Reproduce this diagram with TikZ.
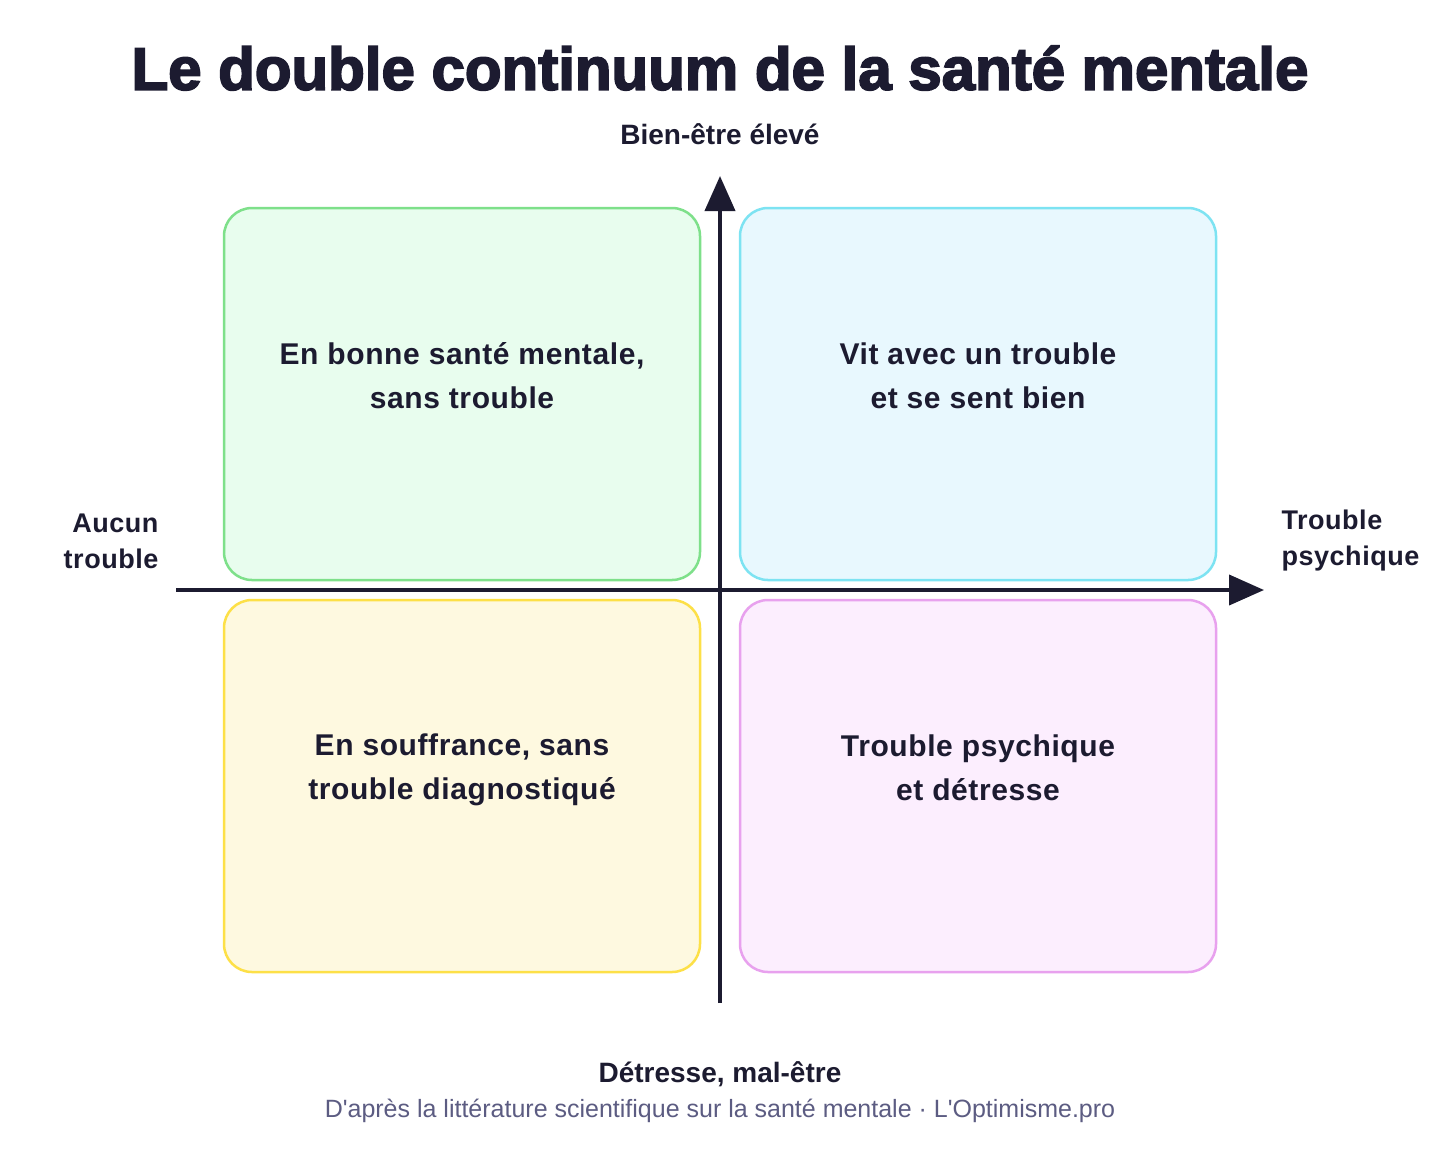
\documentclass[tikz,border=0pt]{standalone}
\usepackage{fontspec}
\setmainfont{Liberation Sans}
\newfontfamily\qfont{Liberation Sans}[LetterSpace=2]
\newfontfamily\footfont{Liberation Sans}[Ligatures=TeXOff]
\newfontfamily\titlefont[FakeBold=3]{Liberation Sans Bold}
\usetikzlibrary{arrows.meta}
\definecolor{ink}{HTML}{1C1B30}
\definecolor{foot}{HTML}{5C5C82}
\definecolor{gfill}{HTML}{E8FDEE}\definecolor{gline}{HTML}{7EE08A}
\definecolor{cfill}{HTML}{E8F8FE}\definecolor{cline}{HTML}{7DE3F2}
\definecolor{yfill}{HTML}{FEF9E0}\definecolor{yline}{HTML}{FDE047}
\definecolor{pfill}{HTML}{FCEEFE}\definecolor{pline}{HTML}{E8A1EE}
\begin{document}
\begin{tikzpicture}[x=1pt,y=-1pt,
  qbox/.style={draw, line width=2.5pt, rounded corners=28pt, minimum width=476pt, minimum height=372pt, inner sep=0pt},
  qtext/.style={text=ink, align=center, font=\qfont\bfseries\fontsize{30}{44}\selectfont},
  axislabel/.style={text=ink, font=\bfseries\fontsize{28}{32}\selectfont},
  sidelabel/.style={text=ink, font=\qfont\bfseries\fontsize{27}{36}\selectfont},
  axisline/.style={draw=ink, line width=4pt, -{Triangle[width=30pt,length=35pt]}}]
\useasboundingbox[fill=white] (0,0) rectangle (1440,1160);
% title
\node[text=ink, font=\titlefont\fontsize{60}{62}\selectfont] (title) at (720,68) {Le double continuum de la santé mentale};
% quadrants
\node[qbox, draw=gline, fill=gfill] (tl) at (462,394) {};
\node[qbox, draw=cline, fill=cfill] (tr) at (978,394) {};
\node[qbox, draw=yline, fill=yfill] (bl) at (462,786) {};
\node[qbox, draw=pline, fill=pfill] (br) at (978,786) {};
\node[qtext] (tltext) at (462,376) {En bonne santé mentale,\\sans trouble};
\node[qtext] (trtext) at (978,376) {Vit avec un trouble\\et se sent bien};
\node[qtext] (bltext) at (462,770) {En souffrance, sans\\trouble diagnostiqué};
\node[qtext] (brtext) at (978,768) {Trouble psychique\\et détresse};
% axes
\coordinate (xs) at (176,590);
\coordinate (xe) at (1264,590);
\coordinate (ys) at (720,1003);
\coordinate (ye) at (720,176);
\draw[axisline] (xs) -- (xe);
\draw[axisline] (ys) -- (ye);
% axis labels
\node[axislabel] (top) at (720,134) {Bien-être élevé};
\node[axislabel] (bottom) at (720,1074) {Détresse, mal-être};
\node[sidelabel, align=right, anchor=east] (left) at (162,541) {Aucun\\trouble};
\node[sidelabel, align=left, anchor=west] (right) at (1278,541) {Trouble\\psychique};
\node[text=foot, font=\footfont\fontsize{25}{28}\selectfont] (footer) at (720,1111) {D'après la littérature scientifique sur la santé mentale · L'Optimisme.pro};
\end{tikzpicture}
\end{document}
